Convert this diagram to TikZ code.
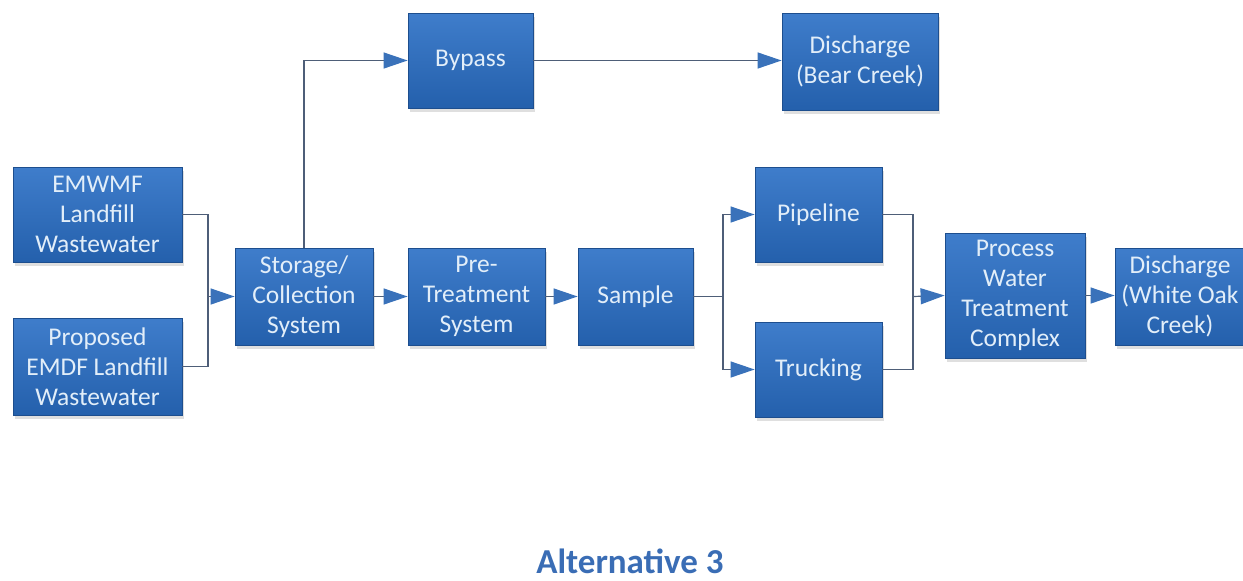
\documentclass[tikz,border=0pt]{standalone}
\usepackage{fontspec}
\setmainfont{Carlito}
\usetikzlibrary{arrows.meta,shadows}
\definecolor{boxtop}{HTML}{3F7DCB}
\definecolor{boxbot}{HTML}{2460AC}
\definecolor{boxborder}{HTML}{1D4E8E}
\definecolor{boxtext}{HTML}{E2EEF9}
\definecolor{linecol}{HTML}{4E5E78}
\definecolor{arrowblue}{HTML}{3A72BA}
\definecolor{titleblue}{HTML}{3A6DB5}
\begin{document}
\begin{tikzpicture}[x=1pt,y=-1pt,
  box/.style={draw=boxborder, line width=0.8pt, top color=boxtop, bottom color=boxbot,
    text=boxtext, align=center, inner sep=0pt,
    font=\fontsize{25.5}{30}\selectfont,
    drop shadow={opacity=0.25, shadow xshift=2pt, shadow yshift=-4pt}},
  conn/.style={draw=linecol, line width=1.2pt},
  arr/.style={conn, -{Triangle[color=arrowblue, length=24pt, width=16pt]}}
]
\useasboundingbox[fill=white] (0,0) rectangle (1243,581);

\node[box, minimum width=169pt, minimum height=95pt] (emwmf) at (97.5,214.5) {EMWMF\\Landfill\\Wastewater};
\node[box, minimum width=169pt, minimum height=97pt] (prop) at (97.5,366.5) {Proposed\\EMDF Landfill\\Wastewater};
\node[box, minimum width=138pt, minimum height=97pt] (stor) at (304,296.5) {Storage/\\Collection\\System};
\node[box, minimum width=137pt, minimum height=97pt] (pre) at (476.5,296.5) {Pre-\\Treatment\\System};
\node[box, minimum width=115pt, minimum height=97pt] (samp) at (635.5,296.5) {Sample};
\node[box, minimum width=127pt, minimum height=95pt] (pipe) at (818.5,214.5) {Pipeline};
\node[box, minimum width=127pt, minimum height=95pt] (truck) at (818.5,369.5) {Trucking};
\node[box, minimum width=140pt, minimum height=125pt] (pwtc) at (1015,295.5) {Process\\Water\\Treatment\\Complex};
\node[box, minimum width=130pt, minimum height=97pt] (dwo) at (1180,296.5) {Discharge\\(White Oak\\Creek)};
\node[box, minimum width=125pt, minimum height=95pt] (byp) at (470.5,60.5) {Bypass};
\node[box, minimum width=156pt, minimum height=97pt] (dbc) at (860,61.5) {Discharge\\(Bear Creek)};

\node[font=\bfseries\fontsize{35}{40}\selectfont, text=titleblue] (title) at (630,561) {Alternative 3};

\coordinate (j1) at (208,296.5);
\coordinate (j2) at (723,296.5);
\coordinate (j3) at (913,296.5);

\draw[conn] (emwmf.east) -| (j1) |- (prop.east);
\draw[arr] (j1) -- (stor.west);
\draw[arr] (stor.north) |- (byp.west);
\draw[arr] (byp.east) -- (byp.east -| dbc.west);
\draw[arr] (stor.east) -- (pre.west);
\draw[arr] (pre.east) -- (samp.west);
\draw[conn] (samp.east) -- (j2);
\draw[arr] (j2) |- (pipe.west);
\draw[arr] (j2) |- (truck.west);
\draw[conn] (pipe.east) -| (j3) |- (truck.east);
\draw[arr] (j3) -- (pwtc.west);
\draw[arr] (pwtc.east) -- (pwtc.east -| dwo.west);
\end{tikzpicture}
\end{document}
